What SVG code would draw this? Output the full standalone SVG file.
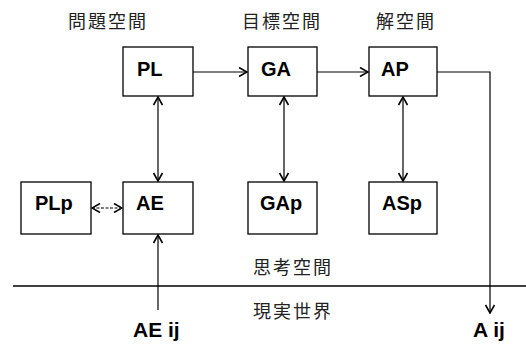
<svg xmlns="http://www.w3.org/2000/svg" width="526" height="344" viewBox="0 0 526 344">
<style>
.box{fill:#fff;stroke:#000;stroke-width:1.3}
.lbl{font-family:"Liberation Sans",Arial,sans-serif;font-weight:bold;font-size:20px;fill:#000}
.big{font-family:"Liberation Sans",Arial,sans-serif;font-weight:bold;font-size:21px;fill:#000}
.jp{font-family:"Noto Sans CJK JP","Noto Sans CJK SC",sans-serif;font-size:18px;fill:#222;letter-spacing:2px}
.ln{fill:none;stroke:#000;stroke-width:1.2}
</style>
<defs>
<marker id="ah" viewBox="0 0 10 10" refX="9" refY="5" markerWidth="10" markerHeight="10" markerUnits="userSpaceOnUse" orient="auto-start-reverse">
<path d="M1,0.5 L9,5 L1,9.5" fill="none" stroke="#000" stroke-width="1.6"/>
</marker>
</defs>
<g id="headings">
<text class="jp" x="108" y="28" text-anchor="middle">問題空間</text>
<text class="jp" x="282" y="28" text-anchor="middle">目標空間</text>
<text class="jp" x="406" y="28" text-anchor="middle">解空間</text>
</g>
<g id="PL"><rect class="box" x="123" y="47" width="70" height="49"/><text class="lbl" x="137" y="76">PL</text></g>
<g id="GA"><rect class="box" x="248" y="47" width="69" height="49"/><text class="lbl" x="261" y="76">GA</text></g>
<g id="AP"><rect class="box" x="369" y="47" width="68" height="49"/><text class="lbl" x="381" y="76">AP</text></g>
<g id="PLp"><rect class="box" x="21" y="182" width="70" height="52"/><text class="lbl" x="35" y="210">PLp</text></g>
<g id="AE"><rect class="box" x="123" y="182" width="70" height="52"/><text class="lbl" x="136" y="210">AE</text></g>
<g id="GAp"><rect class="box" x="248" y="182" width="69" height="52"/><text class="lbl" x="260" y="210">GAp</text></g>
<g id="ASp"><rect class="box" x="369" y="182" width="68" height="52"/><text class="lbl" x="382" y="210">ASp</text></g>
<g id="divider">
<line x1="13" y1="286" x2="526" y2="286" stroke="#000" stroke-width="1.5"/>
<text class="jp" x="253" y="274">思考空間</text>
<text class="jp" x="253" y="318">現実世界</text>
</g>
<g id="AEij"><text class="big" x="133" y="337">AE ij</text></g>
<g id="Aij"><text class="big" x="473" y="337">A ij</text></g>
<g id="connectors">
<line class="ln" x1="193" y1="72" x2="247" y2="72" marker-end="url(#ah)"/>
<line class="ln" x1="317" y1="72" x2="368" y2="72" marker-end="url(#ah)"/>
<polyline class="ln" points="437,72 490,72 490,313" marker-end="url(#ah)"/>
<line class="ln" x1="158" y1="97" x2="158" y2="181" marker-start="url(#ah)" marker-end="url(#ah)"/>
<line class="ln" x1="284" y1="97" x2="284" y2="181" marker-start="url(#ah)" marker-end="url(#ah)"/>
<line class="ln" x1="403" y1="97" x2="403" y2="181" marker-start="url(#ah)" marker-end="url(#ah)"/>
<line class="ln" x1="92" y1="208" x2="122" y2="208" marker-start="url(#ah)" marker-end="url(#ah)" stroke-dasharray="3,1.5"/>
<line class="ln" x1="158" y1="310" x2="158" y2="235" marker-end="url(#ah)"/>
</g>
</svg>
